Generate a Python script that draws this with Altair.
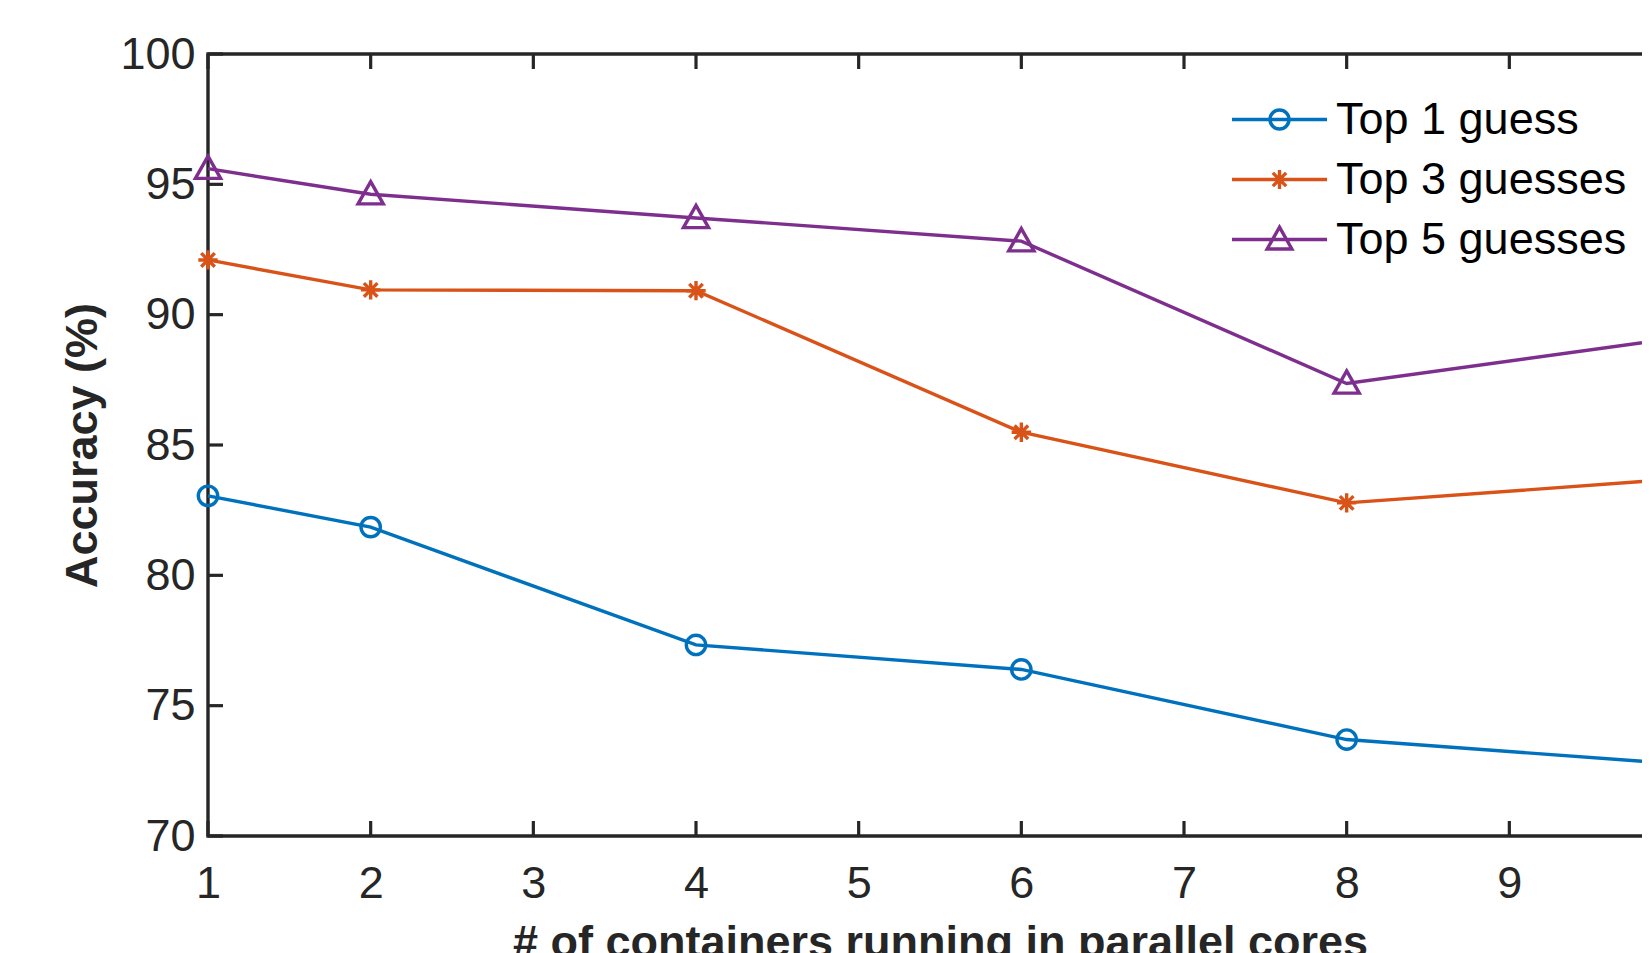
import altair as alt
import pandas as pd

# ---- data ----
cores = [1, 2, 4, 6, 8, 10]
top1 = [83.05, 81.85, 77.33, 76.39, 73.70, 72.78]
top3 = [92.10, 90.95, 90.92, 85.49, 82.78, 83.68]
top5 = [95.60, 94.62, 93.71, 92.82, 87.36, 89.08]

series_names = ["Top 1 guess", "Top 3 guesses", "Top 5 guesses"]
series_colors = ["#0072BD", "#D95319", "#7E2F8E"]

x_ticks = [1, 2, 3, 4, 5, 6, 7, 8, 9, 10]
x_labels = [1, 2, 3, 4, 5, 6, 7, 8, 9]
y_ticks = [70, 75, 80, 85, 90, 95, 100]

# marker shapes (unit paths)
marker_paths = [
    "M0.5,0A0.5,0.5,0,1,1,-0.5,0A0.5,0.5,0,1,1,0.5,0Z",
    "M0,-0.5L0,0.5M-0.5,0L0.5,0M-0.35,-0.35L0.35,0.35M-0.35,0.35L0.35,-0.35",
    "M0,-0.65L0.65,0.5L-0.65,0.5Z",
]
legend_paths = ["M-2.5,0L2.5,0" + p for p in marker_paths]

rows = []
for name, vals in zip(series_names, [top1, top3, top5]):
    for xv, yv in zip(cores, vals):
        rows.append({"cores": xv, "acc": yv, "series": name})
df = pd.DataFrame(rows)
xt_df = pd.DataFrame({"v": x_ticks})
yt_df = pd.DataFrame({"v": y_ticks})

W, H = 1464, 782
PAD_L, PAD_T = 200, 46
FONT = "Liberation Sans"
AX = "#262626"
TICK = 15
LW = 3.4
MSIZE = 1500

xscale = alt.Scale(domain=[1, 10], nice=False, zero=False)
yscale = alt.Scale(domain=[70, 100], nice=False, zero=False)

x_enc = alt.X(
    "cores:Q",
    scale=xscale,
    title="# of containers running in parallel cores",
    axis=alt.Axis(
        values=x_labels, format="d", domain=False, ticks=False, grid=False,
        labelFontSize=45, labelPadding=25, labelColor=AX, labelFont=FONT,
        titleFontSize=45, titleFontWeight="bold", titleColor=AX, titleFont=FONT,
        titlePadding=14, labelFlush=False,
    ),
)
y_enc = alt.Y(
    "acc:Q",
    scale=yscale,
    title="Accuracy (%)",
    axis=alt.Axis(
        values=y_ticks, domain=False, ticks=False, grid=False,
        labelFontSize=45, labelPadding=13, labelColor=AX, labelFont=FONT,
        titleFontSize=45, titleFontWeight="bold", titleColor=AX, titleFont=FONT,
        titlePadding=14, labelFlush=False,
    ),
)

base = alt.Chart(df)
layers = []
for name, col, mpath in zip(series_names, series_colors, marker_paths):
    sub = base.transform_filter(alt.datum.series == name)
    layers.append(sub.mark_line(color=col, strokeWidth=LW).encode(x=x_enc, y=y_enc))
    layers.append(
        sub.mark_point(shape=mpath, size=MSIZE, color=col, filled=False,
                       strokeWidth=LW, opacity=1).encode(x=x_enc, y=y_enc)
    )

legend_kw = dict(
    title=None, orient="none", legendX=1049, legendY=43,
    labelFontSize=45, labelColor="black", labelFont=FONT, labelOffset=34,
    labelLimit=0,
    symbolSize=1444, symbolStrokeWidth=LW, symbolOpacity=1,
    symbolFillColor="transparent", rowPadding=14, padding=0,
)
legend_layer = base.mark_point(filled=False, opacity=0, size=MSIZE, strokeWidth=LW).encode(
    x=x_enc, y=y_enc,
    color=alt.Color("series:N", scale=alt.Scale(domain=series_names, range=series_colors),
                    legend=alt.Legend(**legend_kw)),
    shape=alt.Shape("series:N", scale=alt.Scale(domain=series_names, range=legend_paths),
                    legend=alt.Legend(**legend_kw)),
)

xt = alt.Chart(xt_df)
yt = alt.Chart(yt_df)
tick_bottom = xt.mark_rule(color=AX, strokeWidth=3.2).encode(
    x=alt.X("v:Q", scale=xscale), y=alt.value(H), y2=alt.value(H - TICK))
tick_top = xt.mark_rule(color=AX, strokeWidth=3.2).encode(
    x=alt.X("v:Q", scale=xscale), y=alt.value(0), y2=alt.value(TICK))
tick_left = yt.mark_rule(color=AX, strokeWidth=3.2).encode(
    y=alt.Y("v:Q", scale=yscale), x=alt.value(0), x2=alt.value(TICK))

# the page is 1650 wide: the svg may be at most 1634 wide, the rest of the
# plot (right of x ~ 9.8) runs past the edge as in the reference
PAD_R = 1634 - PAD_L - W

chart = alt.layer(
    tick_bottom, tick_top, tick_left, *layers, legend_layer
).properties(
    width=W, height=H,
    autosize=alt.AutoSizeParams(type="none"),
    padding={"left": PAD_L, "top": PAD_T, "right": PAD_R, "bottom": 125},
    background="white",
).configure_view(
    stroke=AX, strokeWidth=3.4
)

chart.save("out.html", embed_options={"renderer": "svg", "actions": False})
